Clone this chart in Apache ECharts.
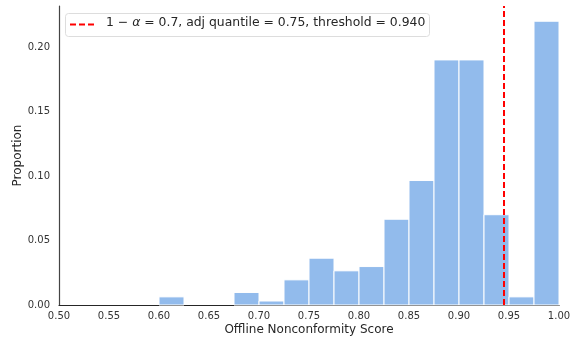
<!DOCTYPE html>
<html><head><meta charset="utf-8">
<script src="https://cdn.jsdelivr.net/npm/echarts@6/dist/echarts.min.js"></script>
<style>html,body{margin:0;padding:0;background:#fff}#c{width:577px;height:339px}</style>
</head><body><div id="c"></div>
<script>
const binStarts = [0.500,0.525,0.550,0.575,0.600,0.625,0.650,0.675,0.700,0.725,0.750,0.775,0.800,0.825,0.850,0.875,0.900,0.925,0.950,0.975];
const proportions = [0,0,0,0,0.0063,0,0,0.0097,0.0031,0.0195,0.0363,0.0265,0.0298,0.0665,0.0965,0.190,0.190,0.0700,0.0063,0.220];
const binWidth = 0.025;
const xTicks = [0.50,0.55,0.60,0.65,0.70,0.75,0.80,0.85,0.90,0.95,1.00];
const yTicks = [0.00,0.05,0.10,0.15,0.20];
const thresholdPos = 0.945;
const legendText = ['1 − ', 'α', ' = 0.7, adj quantile = 0.75, threshold = 0.940'];

const chart = echarts.init(document.getElementById('c'));
const data = binStarts.map((s,i)=>[s, s+binWidth, proportions[i]]).filter(d=>d[2]>0);
const font = 'DejaVu Sans';
const yMax = 0.2318;
chart.setOption({
  animation:false,
  grid:{left:59,right:18,top:6,bottom:34,containLabel:false,outerBoundsMode:'none'},
  xAxis:{type:'value',min:0.5,max:1.0,interval:0.05,
    name:'Offline Nonconformity Score',nameLocation:'middle',nameGap:19,nameMoveOverlap:false,
    nameTextStyle:{fontFamily:font,fontSize:12,color:'#262626'},
    axisLine:{show:true,lineStyle:{color:'#262626',width:1.2}},axisTick:{show:false},splitLine:{show:false},
    axisLabel:{fontFamily:font,fontSize:10,color:'#333',margin:6,formatter:v=>v.toFixed(2)}},
  yAxis:{type:'value',min:0,max:yMax,interval:0.05,
    name:'Proportion',nameLocation:'middle',nameGap:35,nameMoveOverlap:false,
    nameTextStyle:{fontFamily:font,fontSize:12,color:'#262626'},
    axisLine:{show:true,lineStyle:{color:'#444',width:1.2}},axisTick:{show:false},splitLine:{show:false},
    axisLabel:{fontFamily:font,fontSize:10,color:'#333',margin:9,showMaxLabel:false,formatter:v=>v.toFixed(2)}},
  series:[{
    type:'custom',
    data:data,
    encode:{x:[0,1],y:2},
    renderItem:(params,api)=>{
      const p0=api.coord([api.value(0),api.value(2)]);
      const p1=api.coord([api.value(1),0]);
      return {type:'rect',shape:{x:p0[0],y:p0[1],width:p1[0]-p0[0],height:p1[1]-p0[1]},
        style:{fill:'#92bbec',stroke:'#ffffff',lineWidth:1}};
    },
    z:2
  },{
    type:'line',
    data:[[thresholdPos,0],[thresholdPos,yMax]],
    symbol:'none',silent:true,z:5,
    lineStyle:{color:'#ff0000',type:[6,3],width:2}
  }],
  graphic:[
    {type:'rect',left:65,top:13,shape:{width:364,height:23,r:3},style:{fill:'rgba(255,255,255,0.8)',stroke:'#dddddd',lineWidth:1},z:10},
    {type:'line',shape:{x1:70,y1:24.5,x2:96,y2:24.5},style:{stroke:'#ff0000',lineWidth:2,lineDash:[6,3]},z:11},
    {type:'text',left:106,top:17,z:11,style:{
      text:'{a|'+legendText[0]+'}{b|'+legendText[1]+'}{a|'+legendText[2]+'}',
      rich:{a:{fontFamily:font,fontSize:12.4,fill:'#262626'},b:{fontFamily:font,fontSize:12.4,fontStyle:'italic',fill:'#262626'}}}}
  ]
});
</script></body></html>
